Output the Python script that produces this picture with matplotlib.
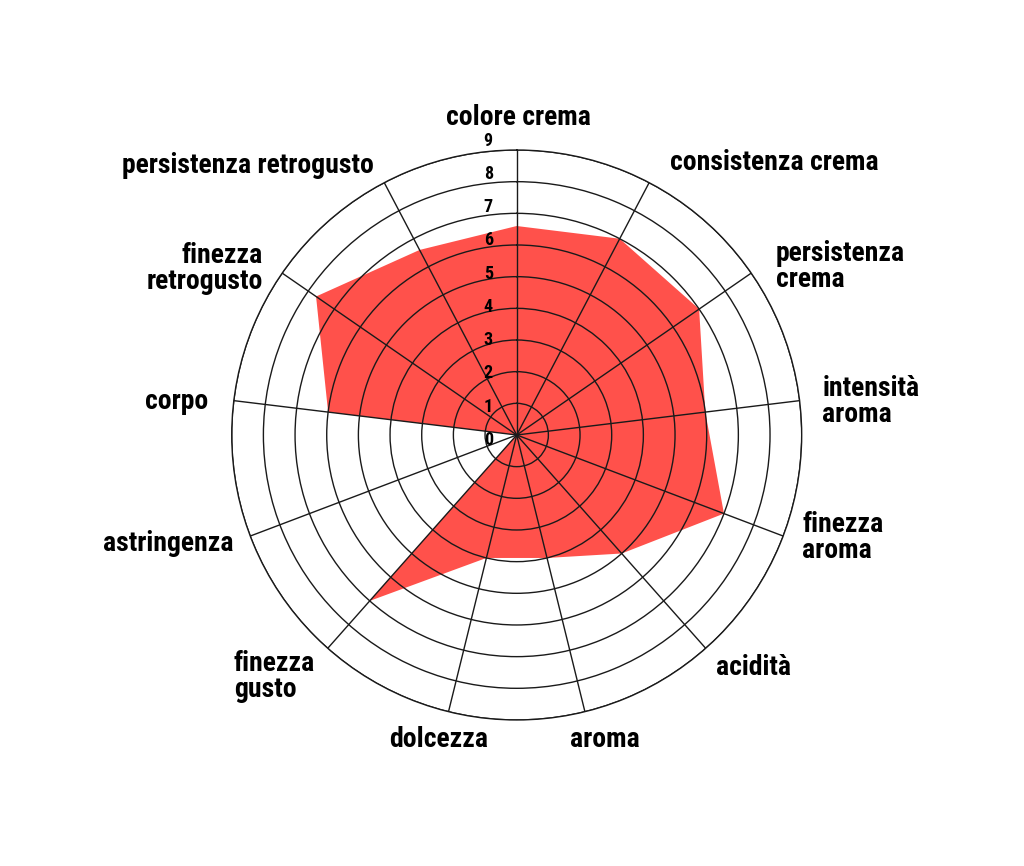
import numpy as np
import matplotlib
matplotlib.use("Agg")
import matplotlib.pyplot as plt
from matplotlib.transforms import ScaledTranslation

categories = ["colore crema", "consistenza crema", "persistenza\ncrema",
              "intensità\naroma", "finezza\naroma", "acidità", "aroma",
              "dolcezza", "finezza\ngusto", "astringenza", "corpo",
              "finezza\nretrogusto", "persistenza retrogusto"]
values = [6.6, 7, 7, 6, 7, 5, 4, 4, 7, 0, 6, 7.7, 6.6]
ticks = list(range(0, 10))

# label placement (theta deg clockwise from top, radius, alignment)
lab_theta = [0.4, 29.3, 56.9, 83.8, 109.8, 139.4, 163.9, 194.3, 229.5, 249.1, 276.2, 303.3, 332.0]
lab_r = [10.03, 9.88, 9.76, 9.71, 9.59, 9.69, 10.01, 9.93, 11.75, 9.59, 9.79, 9.6, 9.64]
lab_ha = ["center", "left", "left", "left", "left", "left", "center", "center",
          "left", "right", "right", "right", "right"]

font = ["Noto Sans Condensed", "DejaVu Sans Condensed", "Liberation Sans Narrow",
        "Roboto Condensed", "Open Sans Condensed", "DejaVu Sans"]

n = len(categories)
angles = np.arange(n) * 2 * np.pi / n

fig = plt.figure(figsize=(10.24, 8.66), dpi=100)
ax = fig.add_axes([0.2263, 0.1686, 0.5566, 0.6582], projection="polar")
ax.set_theta_offset(np.pi / 2)
ax.set_theta_direction(-1)
ax.set_ylim(0, 9)

a = np.append(angles, angles[0])
v = np.append(values, values[0])
ax.fill(a, v, color="#ff514b", lw=0, zorder=1)

ax.set_thetagrids(np.degrees(angles), labels=[""] * n)
ax.set_rgrids(ticks[1:], labels=[""] * 9)
ax.grid(True, color="#1a1a1a", lw=1.0)
ax.spines["polar"].set_color("#1a1a1a")
ax.spines["polar"].set_linewidth(1.0)
ax.tick_params(length=0)

for th, r, ha, txt in zip(lab_theta, lab_r, lab_ha, categories):
    ax.text(np.radians(th), r, txt, ha=ha, va="center", fontsize=20,
            fontweight="bold", fontstretch="condensed", family=font,
            linespacing=0.95, clip_on=False)

for k in ticks:
    off = ScaledTranslation(-28.4 / 100, (1.6 * k - 5) / 100, fig.dpi_scale_trans)
    ax.text(0, k, str(k), transform=ax.transData + off, ha="center", va="center",
            fontsize=13, fontweight="bold", fontstretch="condensed", family=font,
            clip_on=False, zorder=5)

fig.savefig("out.png", dpi=100, facecolor="white")
